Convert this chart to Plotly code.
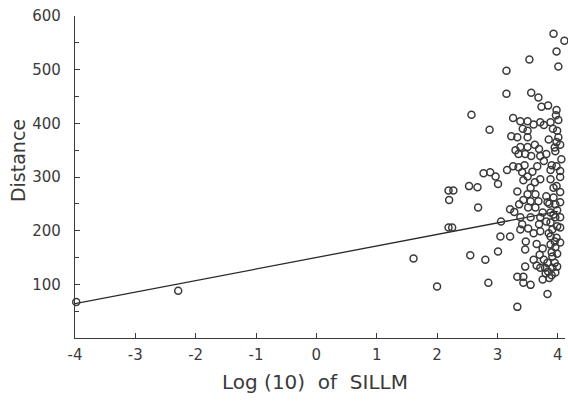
import plotly.graph_objects as go

# Scatter data (log10 SILLM vs Distance)
log_sillm = [
    -3.98, -2.29, 1.61, 2.00, 2.19, 2.25, 2.20, 2.19, 2.27, 2.53,
    2.67, 2.68, 2.55, 2.80, 2.85, 2.57, 2.87, 2.77, 2.88, 3.01,
    2.97, 3.06, 3.05, 3.21, 3.01, 3.33, 3.83, 3.33, 3.21, 3.16,
    3.26, 3.35, 3.41, 3.50, 3.43, 3.71, 3.88, 4.04, 3.98, 4.04,
    3.50, 3.63, 3.81, 3.93, 3.36, 3.43, 3.55, 3.68, 3.83, 3.96,
    4.04, 3.51, 3.63, 3.75, 3.88, 3.99, 3.38, 3.55, 3.71, 3.81,
    3.96, 4.04, 3.41, 3.69, 3.88, 3.99, 3.38, 3.51, 3.71, 3.91,
    4.04, 3.88, 3.98, 3.88, 3.96, 4.04, 3.46, 3.75, 3.60, 3.46,
    3.33, 3.43, 3.43, 3.55, 3.77, 3.91, 3.99, 3.71, 3.79, 3.91,
    3.99, 3.84, 3.96, 3.75, 3.86, 3.93, 4.11, 3.98, 4.01, 3.53,
    3.15, 3.15, 3.56, 3.68, 3.73, 3.84, 3.98, 3.26, 3.38, 3.50,
    3.71, 3.88, 4.01, 3.50, 3.77, 3.99, 3.23, 3.33, 3.50, 4.01,
    3.38, 3.50, 3.69, 3.81, 3.96, 4.04, 3.35, 3.46, 3.56, 3.71,
    3.77, 4.06, 3.98, 3.88, 4.04, 3.98,
    3.93, 3.90, 3.95, 3.85, 3.92, 3.97, 3.86, 3.93, 3.85, 3.95,
    3.90, 3.83, 3.95, 3.90, 3.80, 3.65, 3.62, 3.58, 3.66, 3.62,
    3.45, 3.60, 3.42, 3.30, 3.55, 3.28, 3.47, 3.60, 3.65, 3.70,
]
distance = [
    67, 88, 148, 96, 206, 206, 257, 275, 275, 283,
    281, 243, 154, 146, 103, 416, 388, 307, 309, 287,
    301, 217, 189, 189, 161, 58, 82, 273, 240, 313,
    320, 318, 309, 301, 294, 296, 296, 300, 283, 272,
    268, 268, 264, 262, 249, 257, 255, 255, 253, 249,
    253, 243, 243, 234, 234, 238, 225, 225, 225, 217,
    225, 225, 212, 212, 215, 208, 202, 204, 199, 202,
    206, 189, 187, 174, 169, 178, 165, 167, 146, 133,
    114, 114, 103, 99, 146, 152, 157, 131, 131, 131,
    133, 124, 122, 109, 112, 567, 554, 534, 506, 519,
    498, 455, 457, 448, 431, 433, 425, 410, 404, 404,
    402, 402, 406, 386, 397, 386, 376, 374, 374, 374,
    356, 356, 352, 343, 348, 360, 343, 343, 339, 339,
    330, 333, 320, 313, 311, 365,
    280, 322, 355, 370, 390, 415, 250, 230, 195, 180,
    160, 140, 140, 117, 120, 135, 290, 310, 320, 360,
    322, 398, 390, 350, 280, 235, 180, 195, 175, 155,
]

# Fitted regression line end points
fit_x = [-4, 4]
fit_y = [64, 236]

x_ticks = [-4, -3, -2, -1, 0, 1, 2, 3, 4]
x_tick_labels = ["-4", "-3", "-2", "-1", "0", "1", "2", "3", "4"]
y_ticks = [100, 200, 300, 400, 500, 600]
y_tick_labels = ["100", "200", "300", "400", "500", "600"]
x_title = "Log (10)\u00a0 of\u00a0 SILLM"
y_title = "Distance"

x_range = [-4, 4.12]

ink = "#3a3a3a"
font_family = "DejaVu Sans, sans-serif"

fig = go.Figure()
fig.add_trace(go.Scatter(
    x=fit_x, y=fit_y, mode="lines",
    line=dict(color="#2a2a2a", width=1.3), hoverinfo="skip", showlegend=False,
))
fig.add_trace(go.Scatter(
    x=log_sillm, y=distance, mode="markers",
    marker=dict(symbol="circle-open", size=7, color=ink, line=dict(width=1.5, color=ink)),
    cliponaxis=False, showlegend=False,
))

fig.add_annotation(text=x_title, xref="paper", yref="paper", x=0.49, y=-0.137,
                   xanchor="center", yanchor="middle", showarrow=False,
                   font=dict(size=20, color=ink, family=font_family))
fig.add_annotation(text=y_title, xref="paper", yref="paper", x=-0.116, y=0.55,
                   xanchor="center", yanchor="middle", showarrow=False, textangle=-90,
                   font=dict(size=19, color=ink, family=font_family))

fig.update_layout(
    width=568, height=408,
    margin=dict(l=75, r=3, t=16, b=70),
    plot_bgcolor="white", paper_bgcolor="white",
    font=dict(family=font_family, color=ink, size=15),
    xaxis=dict(
        range=x_range, tickvals=x_ticks, ticktext=x_tick_labels,
        ticks="inside", ticklen=5, tickwidth=1, tickcolor=ink,
        showline=True, linecolor=ink, linewidth=1.3, showgrid=False, zeroline=False,
        tickfont=dict(size=15, color=ink), ticklabelstandoff=3,
    ),
    yaxis=dict(
        range=[0, 600], tickvals=y_ticks, ticktext=y_tick_labels,
        ticks="inside", ticklen=5, tickwidth=1, tickcolor=ink,
        minor=dict(dtick=50, tick0=0, ticks="inside", ticklen=4, tickcolor=ink, showgrid=False),
        showline=True, linecolor=ink, linewidth=1.3, showgrid=False, zeroline=False,
        tickfont=dict(size=15, color=ink), ticklabelstandoff=10,
    ),
)

fig.write_html("out.html", config={"displayModeBar": False},
               post_script="document.body.style.margin='0';")
